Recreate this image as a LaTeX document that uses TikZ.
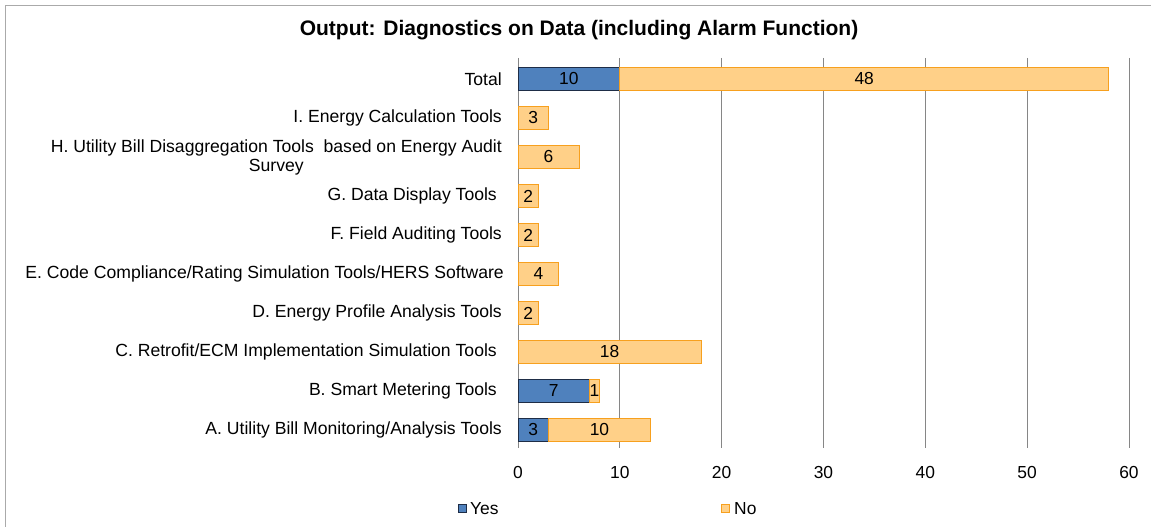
\documentclass[tikz,border=0pt]{standalone}
\usepackage{fontspec}
\setmainfont{Liberation Sans}
\definecolor{yesfill}{RGB}{79,129,189}
\definecolor{yesline}{RGB}{30,45,70}
\definecolor{nofill}{RGB}{255,208,136}
\definecolor{noline}{RGB}{247,160,30}
\definecolor{gridc}{RGB}{134,134,134}
\definecolor{framec}{RGB}{170,170,170}
\tikzset{
  yesbar/.style={draw=yesline, fill=yesfill, line width=0.9pt, inner sep=0pt, outer sep=0pt},
  nobar/.style={draw=noline, fill=nofill, line width=0.9pt, inner sep=0pt, outer sep=0pt},
  cat/.style={anchor=east, align=center, font=\fontsize{17.6}{19}\selectfont, inner sep=0pt},
  val/.style={font=\fontsize{17.4}{17.4}\selectfont, inner sep=0pt},
  tick/.style={font=\fontsize{17.4}{17.4}\selectfont, inner sep=0pt},
  grid/.style={draw=gridc, line width=0.8pt},
}
\begin{document}
\begin{tikzpicture}[x=1pt,y=-1pt]
\useasboundingbox (0,0) rectangle (1151,527);
\fill[white] (0,0) rectangle (1151,527);
% frame (left & top)
\draw[framec, line width=1.5pt] (5.5,527) -- (5.5,5.5) -- (1151,5.5);
% title
\node[font=\bfseries\fontsize{21}{21}\selectfont, inner sep=0pt] (title) at (579,30) {Output: Diagnostics on Data (including Alarm Function)};
% gridlines
\foreach \v in {10,20,30,40,50,60}{
  \draw[grid] ({518+\v*10.183},58) -- ({518+\v*10.183},448);
}
\draw[grid] (518,58) -- (518,448);
% tick labels
\foreach \v in {0,10,20,30,40,50,60}{
  \node[tick] (t\v) at ({518+\v*10.183},473) {\v};
}
% rows: name, y, label x, label, yes, no
\def\bh{11.5}
\newcommand{\rowbar}[6]{%
  \node[cat] (l#1) at (#3,#2) {#4};
  \ifnum#5>0
    \draw[yesbar] (518,#2-\bh) rectangle ({518+#5*10.183},#2+\bh);
    \node[val] (y#1) at ({518+#5*10.183/2},#2) {#5};
  \fi
  \draw[nobar] ({518+#5*10.183},#2-\bh) rectangle ({518+(#5+#6)*10.183},#2+\bh);
  \node[val] (n#1) at ({518+(#5+#6/2)*10.183},#2) {#6};
}
\rowbar{T}{79}{502}{Total}{10}{48}
\rowbar{I}{118}{502}{I. Energy Calculation Tools}{0}{3}
\rowbar{H}{157}{502}{H. Utility Bill Disaggregation Tools\ \ based on Energy Audit\\Survey}{0}{6}
\rowbar{G}{196}{497}{G. Data Display Tools}{0}{2}
\rowbar{F}{235}{502}{F. Field Auditing Tools}{0}{2}
\rowbar{E}{274}{504}{E. Code Compliance/Rating Simulation Tools/HERS Software}{0}{4}
\rowbar{D}{313}{502}{D. Energy Profile Analysis Tools}{0}{2}
\rowbar{C}{352}{497}{C. Retrofit/ECM Implementation Simulation Tools}{0}{18}
\rowbar{B}{391}{497}{B. Smart Metering Tools}{7}{1}
\rowbar{A}{430}{502}{A. Utility Bill Monitoring/Analysis Tools}{3}{10}
% legend
\draw[yesbar] (458,504) rectangle (466,512);
\node[val, anchor=west] (lyes) at (470,509) {Yes};
\draw[nobar] (721,504) rectangle (729,512);
\node[val, anchor=west] (lno) at (734,509) {No};
\end{tikzpicture}
\end{document}
